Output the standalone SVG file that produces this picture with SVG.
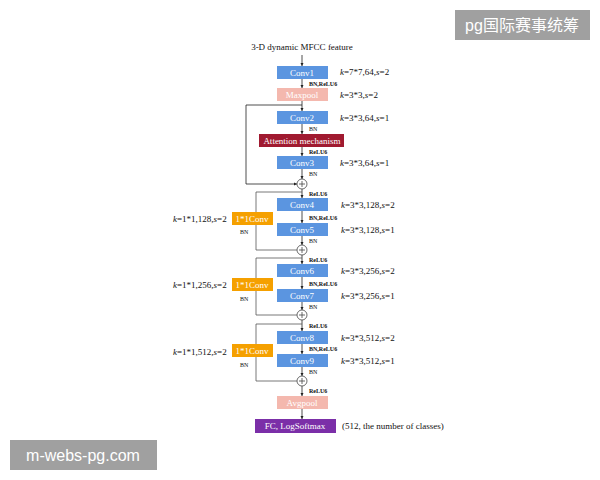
<svg xmlns="http://www.w3.org/2000/svg" width="600" height="480" viewBox="0 0 600 480">
<defs>
<marker id="ah" viewBox="0 0 6 6" refX="6" refY="3" markerWidth="4" markerHeight="4" orient="auto"><path d="M0,0L6,3L0,6z" fill="#222"/></marker>
</defs>
<style>
text{font-family:"Liberation Serif",serif;}
.bx{fill:#5b95e0}
.bt{fill:#fff;font-size:9px;text-anchor:middle}
.k{font-size:9px;fill:#111}
.s{font-size:6px;fill:#111}
.sb{font-size:6px;fill:#111;font-weight:bold}
.ln{stroke:#555;stroke-width:0.8;fill:none}
.ar{stroke:#222;stroke-width:0.8;fill:none;marker-end:url(#ah)}
</style>
<rect width="600" height="480" fill="#fff"/>
<text x="302" y="50" text-anchor="middle" class="k">3-D dynamic MFCC feature</text>
<g id="connectors">
<path class="ar" d="M302,55V66"/><path class="ar" d="M302,79V88"/><path class="ar" d="M302,101V111"/>
<path class="ar" d="M302,124V134"/><path class="ar" d="M302,147V156"/><path class="ar" d="M302,169V179"/>
<path class="ar" d="M302,105H246V184H297"/>
<path class="ar" d="M302,189V198"/><path class="ar" d="M302,211V223"/><path class="ar" d="M302,236V245"/>
<path class="ln" d="M302,192H256V212M256,225V250H297"/>
<path class="ar" d="M302,255V264"/><path class="ar" d="M302,277V289"/><path class="ar" d="M302,302V310"/>
<path class="ln" d="M302,258H256V278M256,291V315H297"/>
<path class="ar" d="M302,320V331"/><path class="ar" d="M302,344V354"/><path class="ar" d="M302,367V376"/>
<path class="ln" d="M302,324H256V344M256,357V381H297"/>
<path class="ar" d="M302,386V396"/><path class="ar" d="M302,409V419"/>
</g>
<g id="conv1"><rect class="bx" x="277" y="66" width="51" height="13"/><text class="bt" x="302" y="76">Conv1</text></g>
<g id="maxpool"><rect fill="#f4b8ae" x="277" y="88" width="51" height="13"/><text class="bt" x="302" y="98">Maxpool</text></g>
<g id="conv2"><rect class="bx" x="277" y="111" width="51" height="13"/><text class="bt" x="302" y="121">Conv2</text></g>
<g id="attention"><rect fill="#a01a30" x="259" y="134" width="85" height="13"/><text class="bt" x="302" y="144">Attention mechanism</text></g>
<g id="conv3"><rect class="bx" x="277" y="156" width="51" height="13"/><text class="bt" x="302" y="166">Conv3</text></g>
<g id="conv4"><rect class="bx" x="277" y="198" width="51" height="13"/><text class="bt" x="302" y="208">Conv4</text></g>
<g id="conv5"><rect class="bx" x="277" y="223" width="51" height="13"/><text class="bt" x="302" y="233">Conv5</text></g>
<g id="conv6"><rect class="bx" x="277" y="264" width="51" height="13"/><text class="bt" x="302" y="274">Conv6</text></g>
<g id="conv7"><rect class="bx" x="277" y="289" width="51" height="13"/><text class="bt" x="302" y="299">Conv7</text></g>
<g id="conv8"><rect class="bx" x="277" y="331" width="51" height="13"/><text class="bt" x="302" y="341">Conv8</text></g>
<g id="conv9"><rect class="bx" x="277" y="354" width="51" height="13"/><text class="bt" x="302" y="364">Conv9</text></g>
<g id="avgpool"><rect fill="#f4b8ae" x="277" y="396" width="51" height="13"/><text class="bt" x="302" y="406">Avgpool</text></g>
<g id="fc"><rect fill="#7b2fa8" x="255" y="419" width="81" height="14"/><text class="bt" x="295" y="429">FC, LogSoftmax</text></g>
<g id="res1conv"><rect fill="#f5a000" x="232" y="212" width="41" height="13"/><text class="bt" x="252" y="222">1*1Conv</text></g>
<g id="res2conv"><rect fill="#f5a000" x="232" y="278" width="41" height="13"/><text class="bt" x="252" y="288">1*1Conv</text></g>
<g id="res3conv"><rect fill="#f5a000" x="232" y="344" width="41" height="13"/><text class="bt" x="252" y="354">1*1Conv</text></g>
<g id="plus" fill="#fff" stroke="#444" stroke-width="0.8">
<circle cx="302" cy="184" r="5"/><path d="M299,184h6M302,181v6"/>
<circle cx="302" cy="250" r="5"/><path d="M299,250h6M302,247v6"/>
<circle cx="302" cy="315" r="5"/><path d="M299,315h6M302,312v6"/>
<circle cx="302" cy="381" r="5"/><path d="M299,381h6M302,378v6"/>
</g>
<g id="labels">
<text class="sb" x="309" y="86">BN,ReLU6</text>
<text class="s" x="309" y="131">BN</text>
<text class="sb" x="309" y="154">ReLU6</text>
<text class="s" x="309" y="176">BN</text>
<text class="sb" x="309" y="196">ReLU6</text>
<text class="sb" x="309" y="220">BN,ReLU6</text>
<text class="s" x="309" y="243">BN</text>
<text class="s" x="240" y="234">BN</text>
<text class="sb" x="309" y="262">ReLU6</text>
<text class="sb" x="309" y="286">BN,ReLU6</text>
<text class="s" x="309" y="309">BN</text>
<text class="s" x="240" y="301">BN</text>
<text class="sb" x="309" y="328">ReLU6</text>
<text class="sb" x="309" y="351">BN,ReLU6</text>
<text class="s" x="309" y="374">BN</text>
<text class="s" x="240" y="367">BN</text>
<text class="sb" x="309" y="393">ReLU6</text>
<text class="k" x="340" y="75"><tspan font-style="italic">k</tspan>=7*7,64,<tspan font-style="italic">s</tspan>=2</text>
<text class="k" x="340" y="98"><tspan font-style="italic">k</tspan>=3*3,<tspan font-style="italic">s</tspan>=2</text>
<text class="k" x="340" y="121"><tspan font-style="italic">k</tspan>=3*3,64,<tspan font-style="italic">s</tspan>=1</text>
<text class="k" x="340" y="166"><tspan font-style="italic">k</tspan>=3*3,64,<tspan font-style="italic">s</tspan>=1</text>
<text class="k" x="341" y="208"><tspan font-style="italic">k</tspan>=3*3,128,<tspan font-style="italic">s</tspan>=2</text>
<text class="k" x="341" y="233"><tspan font-style="italic">k</tspan>=3*3,128,<tspan font-style="italic">s</tspan>=1</text>
<text class="k" x="341" y="274"><tspan font-style="italic">k</tspan>=3*3,256,<tspan font-style="italic">s</tspan>=2</text>
<text class="k" x="341" y="299"><tspan font-style="italic">k</tspan>=3*3,256,<tspan font-style="italic">s</tspan>=1</text>
<text class="k" x="341" y="341"><tspan font-style="italic">k</tspan>=3*3,512,<tspan font-style="italic">s</tspan>=2</text>
<text class="k" x="341" y="364"><tspan font-style="italic">k</tspan>=3*3,512,<tspan font-style="italic">s</tspan>=1</text>
<text class="k" x="173" y="222"><tspan font-style="italic">k</tspan>=1*1,128,<tspan font-style="italic">s</tspan>=2</text>
<text class="k" x="173" y="288"><tspan font-style="italic">k</tspan>=1*1,256,<tspan font-style="italic">s</tspan>=2</text>
<text class="k" x="173" y="355"><tspan font-style="italic">k</tspan>=1*1,512,<tspan font-style="italic">s</tspan>=2</text>
<text class="k" x="342" y="429">(512, the number of classes)</text>
</g>
<g id="watermarks">
<rect x="455" y="10" width="135" height="30" fill="#a0a0a0"/>
<text x="522" y="31" text-anchor="middle" fill="#fff" font-size="16" style="font-family:'Liberation Sans','Noto Sans CJK SC',sans-serif">pg国际赛事统筹</text>
<rect x="10" y="440" width="147" height="30" fill="#a0a0a0"/>
<text x="83" y="461" text-anchor="middle" fill="#fff" font-size="16" style="font-family:'Liberation Sans',sans-serif">m-webs-pg.com</text>
</g>
</svg>
